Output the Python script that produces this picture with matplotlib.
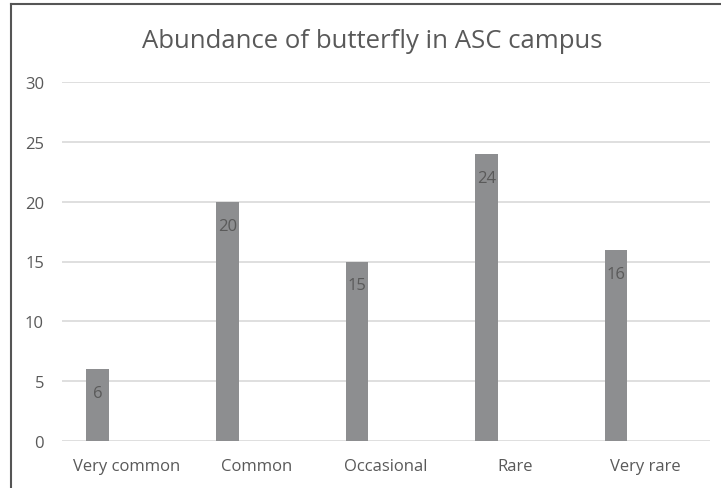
import matplotlib
matplotlib.use("Agg")
import matplotlib.pyplot as plt
from matplotlib.lines import Line2D

categories = ["Very common", "Common", "Occasional", "Rare", "Very rare"]
values = [6, 20, 15, 24, 16]
yticks = [0, 5, 10, 15, 20, 25, 30]
title = "Abundance of butterfly in ASC campus"

plt.rcParams['font.family'] = ['Open Sans', 'DejaVu Sans']
W, H = 721, 489
fig = plt.figure(figsize=(W / 100, H / 100), dpi=100)
fig.patch.set_facecolor("white")

ax = fig.add_axes([62 / W, 1 - 442 / H, (710 - 62) / W, (442 - 83) / H])
x = list(range(len(categories)))
bx = [i - 0.225 for i in x]
bars = ax.bar(bx, values, width=0.175, color="#8d8e90", zorder=3)
for xi, v in zip(bx, values):
    ax.annotate(str(v), (xi, v), xytext=(0, -11.5), textcoords="offset points",
                ha="center", va="top", fontsize=12, color="#5a5a5a", zorder=4)

ax.set_xlim(-0.5, len(categories) - 0.5)
ax.set_ylim(0, 30)
ax.set_yticks(yticks)
ax.set_xticks(x)
ax.set_xticklabels(categories)
ax.tick_params(axis="both", length=0, labelsize=12, colors="#595959")
ax.tick_params(axis="y", pad=13)
ax.tick_params(axis="x", pad=12)
ax.grid(axis="y", color="#d9d9d9", linewidth=1.2, zorder=0)
for s in ax.spines.values():
    s.set_visible(False)

fig.text(372 / W, 1 - 42 / H, title, ha="center", va="center", fontsize=18.5, color="#595959")

# outer frame (top and left only)
fig.add_artist(Line2D([11 / W, 11 / W], [0, 1 - 4.5 / H], transform=fig.transFigure, color="#555555", linewidth=1.5))
fig.add_artist(Line2D([11 / W, 1], [1 - 4.5 / H, 1 - 4.5 / H], transform=fig.transFigure, color="#555555", linewidth=1.5))

fig.savefig("out.png", dpi=100, facecolor="white")
